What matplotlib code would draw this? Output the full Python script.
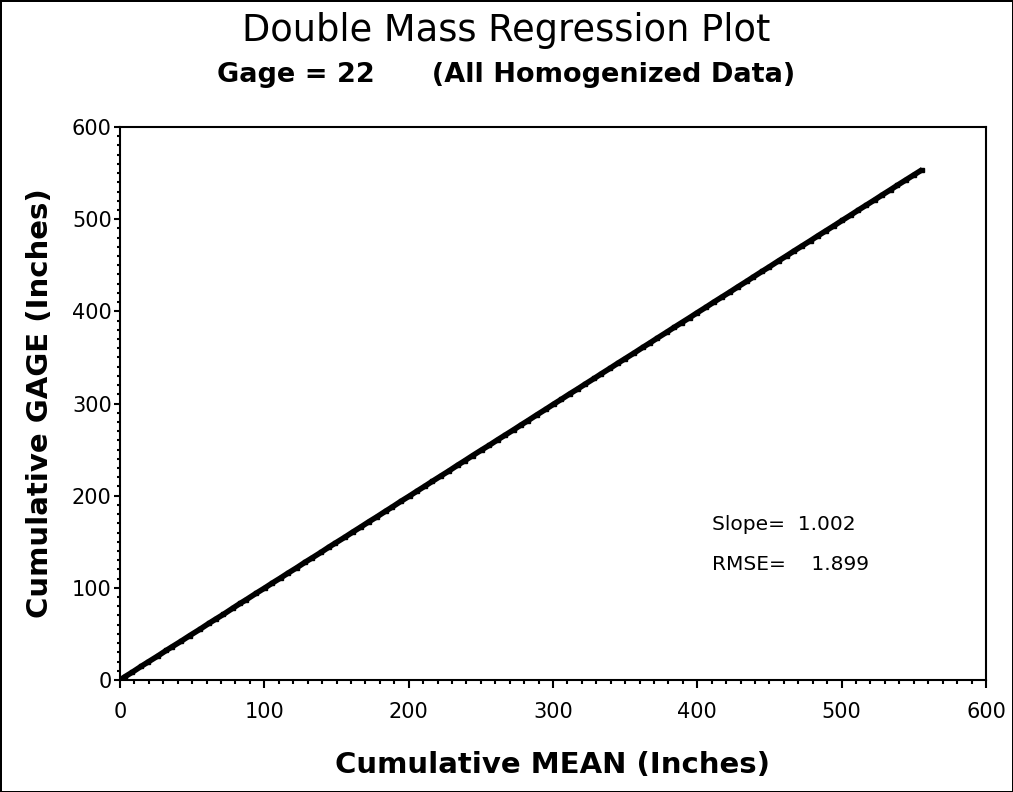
import numpy as np
import matplotlib.pyplot as plt
from matplotlib.ticker import MultipleLocator

plt.rcParams['font.family'] = ['DejaVu Sans']

# monthly increments (inches) for the area MEAN and the GAGE, accumulated below
mean_inc = [3.1, 5.4, 6.2, 4.8, 7.0, 5.5, 4.1, 6.3, 5.9, 7.3,
            6.0, 4.7, 5.2, 6.6, 5.1, 4.3, 6.9, 5.8, 5.4, 5.6,
            4.9, 6.4, 5.7, 5.0, 6.1, 5.3, 4.6, 6.7, 5.5, 5.4,
            5.8, 5.2, 6.3, 4.4, 5.9, 6.2, 5.1, 5.6, 5.0, 6.1,
            5.5, 6.0, 4.8, 5.7, 6.4, 5.2, 5.6, 5.3, 6.1, 5.0,
            4.7, 5.9, 6.5, 5.4, 5.1, 6.0, 5.8, 4.9, 6.2, 5.1,
            6.1, 5.3, 5.0, 6.4, 5.7, 4.8, 5.5, 6.3, 5.2, 5.3,
            5.6, 4.9, 6.2, 5.8, 5.1, 5.9, 5.4, 6.0, 4.7, 6.0,
            5.2, 6.3, 5.5, 4.9, 5.7, 6.1, 5.0, 5.8, 5.6, 5.5,
            5.9, 5.0, 5.4, 6.2, 5.3, 5.7, 4.8, 6.1, 5.6, 5.6]
gage_inc = [3.3, 5.2, 6.4, 4.7, 6.8, 5.7, 4.0, 6.1, 6.0, 7.1,
            6.2, 4.6, 5.0, 6.8, 5.2, 4.1, 7.0, 5.6, 5.5, 5.4,
            5.0, 6.2, 5.9, 4.8, 6.0, 5.5, 4.5, 6.5, 5.6, 5.3,
            5.9, 5.0, 6.4, 4.3, 6.1, 6.0, 5.2, 5.5, 5.1, 6.0,
            5.4, 6.2, 4.7, 5.8, 6.3, 5.0, 5.7, 5.2, 6.0, 5.1,
            4.6, 6.0, 6.4, 5.5, 5.0, 6.1, 5.6, 5.0, 6.1, 5.2,
            6.0, 5.4, 4.9, 6.3, 5.8, 4.7, 5.6, 6.2, 5.3, 5.2,
            5.5, 5.0, 6.1, 5.9, 5.0, 5.8, 5.5, 5.9, 4.8, 6.0,
            5.1, 6.4, 5.4, 5.0, 5.6, 6.0, 5.1, 5.7, 5.5, 5.6,
            5.8, 5.1, 5.3, 6.1, 5.4, 5.6, 4.9, 6.0, 5.5, 5.5]
slope_txt = 'Slope=  1.002'
rmse_txt = 'RMSE=    1.899'

cum_mean = np.concatenate([[0], np.cumsum(mean_inc)])
cum_gage = np.concatenate([[0], np.cumsum(gage_inc)])

fig = plt.figure(figsize=(10.13, 7.92), dpi=100)
fig.patch.set_edgecolor('black')
fig.patch.set_linewidth(2)
ax = fig.add_axes([0.1185, 0.1414, 0.8548, 0.6982])

ax.plot(cum_mean, cum_gage, color='black', lw=4, marker='s', ms=3,
        solid_capstyle='butt')

ax.set_xlim(0, 600)
ax.set_ylim(0, 600)
ax.xaxis.set_major_locator(MultipleLocator(100))
ax.yaxis.set_major_locator(MultipleLocator(100))
ax.xaxis.set_minor_locator(MultipleLocator(10))
ax.yaxis.set_minor_locator(MultipleLocator(10))
ax.tick_params(axis='x', which='major', length=6, width=1.5, pad=10, labelsize=15)
ax.tick_params(axis='x', which='minor', length=3, width=1.5)
ax.tick_params(axis='y', which='major', length=4, width=1.5, pad=2, labelsize=15)
ax.tick_params(axis='y', which='minor', length=2, width=1.5)
for s in ax.spines.values():
    s.set_linewidth(1.5)

ax.set_xlabel('Cumulative MEAN (Inches)', fontsize=21, fontweight='bold', va='center')
ax.set_ylabel('Cumulative GAGE (Inches)', fontsize=21, fontweight='bold', va='center')
ax.xaxis.set_label_coords(0.5, -0.154)
ax.yaxis.set_label_coords(-0.092, 0.5)

ax.text(410, 169, slope_txt, fontsize=14.5, va='center', ha='left')
ax.text(410, 125, rmse_txt, fontsize=14.5, va='center', ha='left')

fig.text(0.5, 0.962, 'Double Mass Regression Plot', fontsize=26.5, ha='center', va='center')
fig.text(0.5, 0.905, 'Gage = 22      (All Homogenized Data)', fontsize=19.5,
         fontweight='bold', ha='center', va='center')

fig.savefig('out.png', dpi=100, edgecolor=fig.get_edgecolor())
